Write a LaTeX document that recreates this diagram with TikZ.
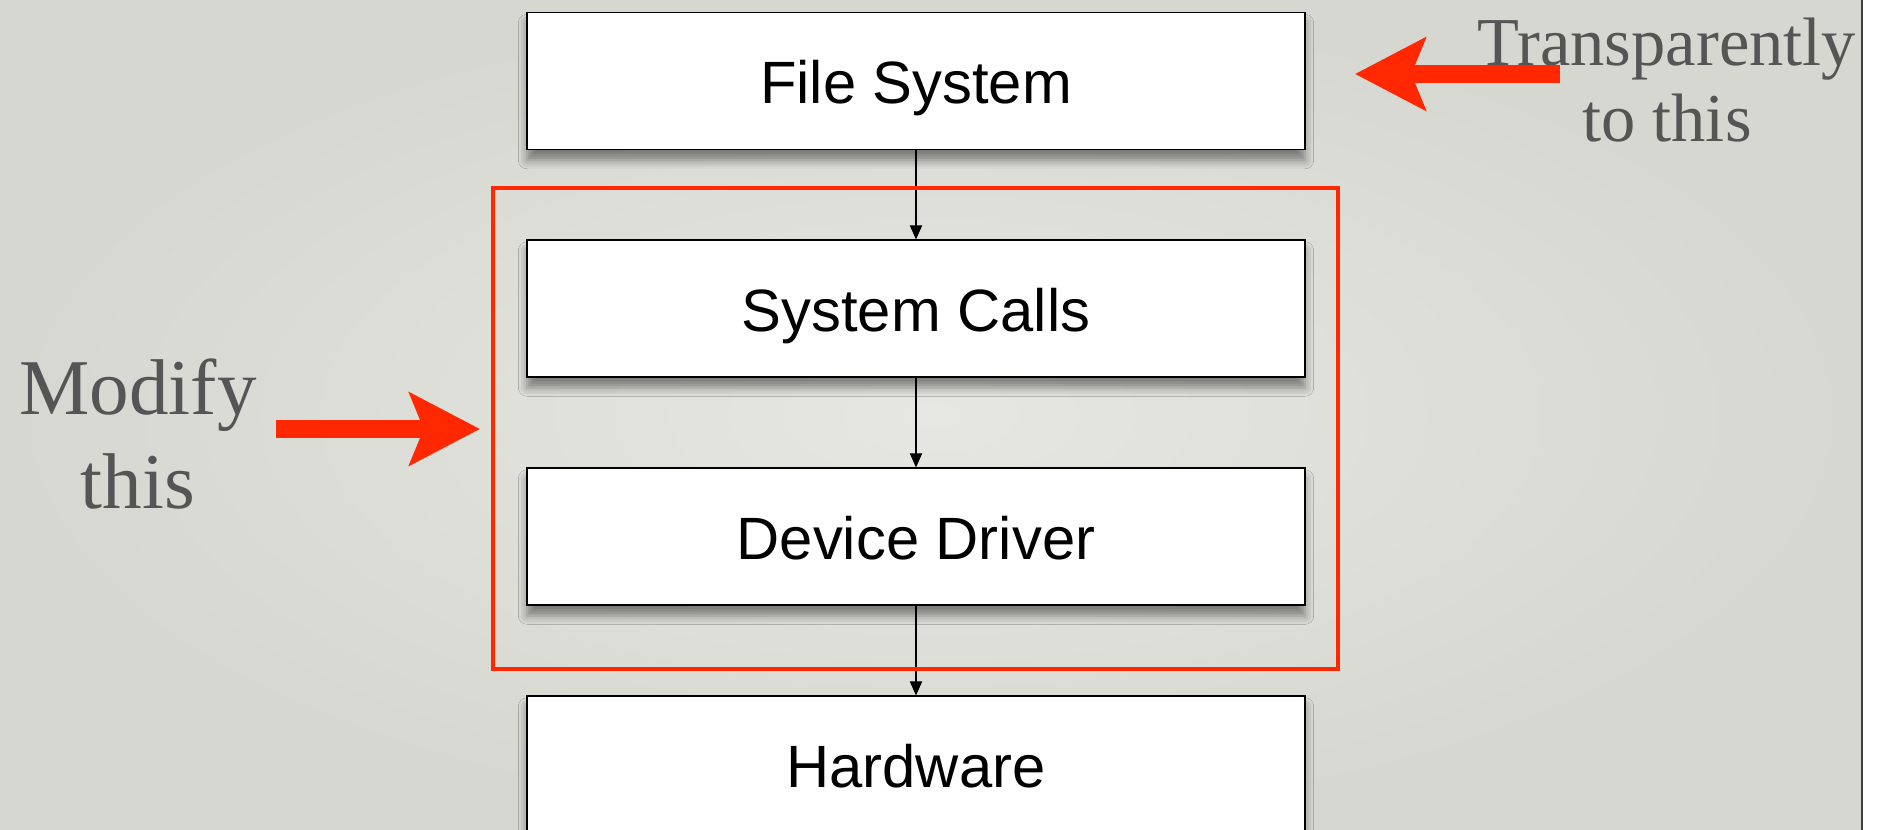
\documentclass[tikz,border=0pt]{standalone}
\usepackage{fontspec}
\setmainfont{Liberation Serif}
\newfontfamily\boxfont{Liberation Sans}
\usetikzlibrary{arrows.meta,shadows.blur}
\definecolor{slidebg}{RGB}{230,231,226}
\definecolor{slideedge}{RGB}{214,215,208}
\definecolor{hotred}{RGB}{255,40,0}
\definecolor{notegray}{RGB}{85,85,85}
\begin{document}
\begin{tikzpicture}[x=0.02cm,y=-0.02cm,
    layer/.style={draw=black,line width=0.7pt,fill=white,minimum width=15.56cm,
      minimum height=2.74cm,inner sep=0pt,text height=26pt,text depth=0pt,
      font=\boxfont\fontsize{34}{40}\selectfont,
      blur shadow={shadow xshift=0pt,shadow yshift=-6pt,shadow blur radius=5pt,shadow opacity=45}},
    flow/.style={-{Triangle[length=8pt,width=7pt]},line width=0.6pt},
    bigarrow/.style={-{Stealth[length=40pt,width=41pt,inset=8pt]},line width=10.2pt,hotred},
    note/.style={align=center,text=notegray}]
  \useasboundingbox (0,0) rectangle (1881,830);
  % slide background
  \shade[inner color=slidebg,outer color=slideedge] (0,0) rectangle (1862,830);
  \draw[black!75,line width=0.8pt] (1862,0) -- (1862,830);
  % layers
  \node[layer] (fs) at (916,81) {File System};
  \node[layer] (sc) at (916,308.5) {System Calls};
  \node[layer] (dd) at (916,536.5) {Device Driver};
  \node[layer] (hw) at (916,764.5) {Hardware};
  \draw[flow] (fs) -- (sc);
  \draw[flow] (sc) -- (dd);
  \draw[flow] (dd) -- (hw);
  % part to change
  \node[draw=hotred,line width=2.3pt,minimum width=16.9cm,minimum height=9.62cm] (kernel) at (915.5,428.5) {};
  % notes
  \node[note,font=\fontsize{45}{54}\selectfont] (modify) at (138,434) {Modify\\this};
  \node[note,font=\fontsize{39}{43}\selectfont] (transp) at (1667,80) {Transparently\\to this};
  \coordinate (modtail) at (276,429);
  \coordinate (modtip) at (480,429);
  \coordinate (trtail) at (1560,74);
  \coordinate (trtip) at (1355,74);
  \draw[bigarrow] (modtail) -- (modtip);
  \draw[bigarrow] (trtail) -- (trtip);
\end{tikzpicture}
\end{document}
